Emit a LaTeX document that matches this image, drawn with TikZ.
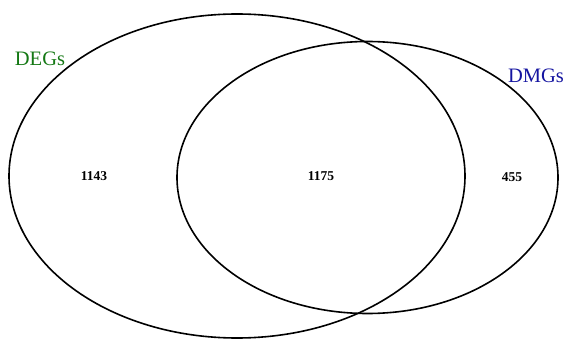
\documentclass[tikz,border=0pt]{standalone}
\usepackage{fontspec}
\setmainfont{Liberation Serif}
\definecolor{deggreen}{RGB}{20,120,20}
\definecolor{dmgblue}{RGB}{20,20,160}
\begin{document}
\begin{tikzpicture}[x=1pt,y=1pt,
  setline/.style={draw=black,line width=1.6pt},
  setlabel/.style={font=\fontsize{20.5}{22}\selectfont,inner sep=0pt},
  count/.style={font=\bfseries\fontsize{13.5}{15}\selectfont,inner sep=0pt}]
\useasboundingbox (0,0) rectangle (571,338);
\draw[setline] (237,162) ellipse [x radius=228, y radius=162];
\draw[setline] (367.5,160.5) ellipse [x radius=190.5, y radius=136];
\node[setlabel,text=deggreen] (deg) at (40,279) {DEGs};
\node[setlabel,text=dmgblue] (dmg) at (536,262) {DMGs};
\node[count] (a) at (94,162) {1143};
\node[count] (b) at (321,162) {1175};
\node[count] (c) at (512,161) {455};
\end{tikzpicture}
\end{document}
